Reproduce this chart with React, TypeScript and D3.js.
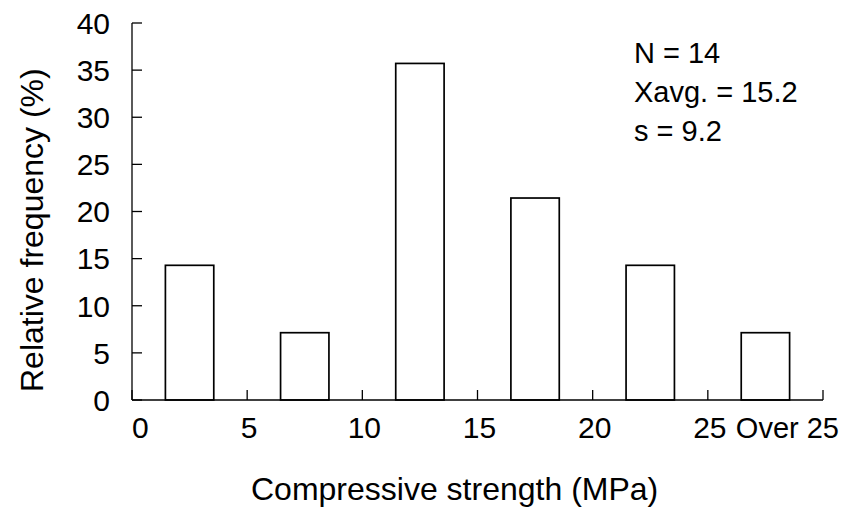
import React from 'react';
import * as d3 from 'd3';

// bins: labels at bin boundaries, bars between them
const boundaryLabels = ['0', '5', '10', '15', '20', '25', 'Over 25'];
const barBins = ['0-5', '5-10', '10-15', '15-20', '20-25', 'Over 25'];
const relFreq = [14.29, 7.14, 35.71, 21.43, 14.29, 7.14];
const yTicks = [0, 5, 10, 15, 20, 25, 30, 35, 40];
const statsLines = ['N = 14', 'Xavg. = 15.2', 's = 9.2'];

const W = 859;
const H = 508;
const margin = { top: 23, right: 36, bottom: 108, left: 132 };
const FONT = 'Liberation Sans, Arial, sans-serif';

const App = () => {
  const x0 = margin.left;
  const x1 = W - margin.right;
  const yBottom = H - margin.bottom;

  const xBand = d3.scaleBand().domain(barBins).range([x0, x1]).paddingInner(0.58).paddingOuter(0.29);
  const xEdge = d3.scalePoint().domain(boundaryLabels).range([x0, x1]);
  const y = d3.scaleLinear().domain([0, 40]).range([yBottom, margin.top]);

  return (
    <svg width={W} height={H} style={{ position: 'absolute', left: 0, top: 0, background: '#fff' }} fontFamily={FONT}>
      {/* bars */}
      {barBins.map((b, i) => (
        <rect
          key={b}
          x={xBand(b)}
          y={y(relFreq[i])}
          width={xBand.bandwidth()}
          height={yBottom - y(relFreq[i])}
          fill="#fff"
          stroke="#000"
          strokeWidth={1.7}
        />
      ))}

      {/* y axis */}
      <line x1={x0} x2={x0} y1={y(40)} y2={yBottom} stroke="#000" strokeWidth={1.3} />
      {yTicks.map((t) => (
        <g key={t}>
          <line x1={x0} x2={x0 + 10} y1={y(t)} y2={y(t)} stroke="#000" strokeWidth={1.3} />
          <text x={110} y={y(t)} dy="0.36em" textAnchor="end" fontSize={30}>
            {t}
          </text>
        </g>
      ))}

      {/* x axis */}
      <line x1={x0} x2={x1} y1={yBottom} y2={yBottom} stroke="#000" strokeWidth={1.3} />
      {boundaryLabels.map((l, i) => {
        const px = xEdge(l);
        let anchor = 'middle';
        let tx = px + 2;
        if (i === 0) {
          anchor = 'start';
          tx = px;
        } else if (i === boundaryLabels.length - 1) {
          anchor = 'end';
          tx = px + 16;
        }
        return (
          <g key={l}>
            <line x1={px} x2={px} y1={yBottom} y2={yBottom - 10} stroke="#000" strokeWidth={1.3} />
            <text x={tx} y={438} textAnchor={anchor} fontSize={i === boundaryLabels.length - 1 ? 29 : 30}>
              {l}
            </text>
          </g>
        );
      })}

      {/* axis titles */}
      <text x={251} y={500} textAnchor="start" fontSize={32}>
        Compressive strength (MPa)
      </text>
      <text transform="translate(43,392) rotate(-90)" textAnchor="start" fontSize={32}>
        Relative frequency (%)
      </text>

      {/* summary stats */}
      {statsLines.map((s, i) => (
        <text key={s} x={634} y={63 + i * 39} fontSize={29}>
          {s}
        </text>
      ))}
    </svg>
  );
};

export default App;
